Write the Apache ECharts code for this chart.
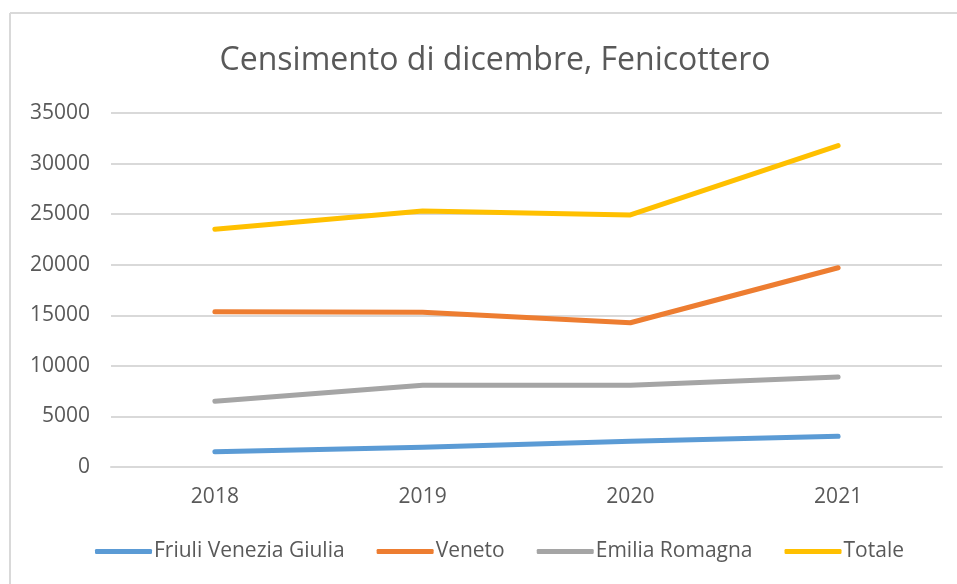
<!DOCTYPE html>
<html>
<head>
<meta charset="utf-8">
<script src="https://cdn.jsdelivr.net/npm/echarts@6/dist/echarts.min.js"></script>
<style>html,body{margin:0;padding:0;background:#fff}#c{width:957px;height:584px}</style>
</head>
<body>
<div id="c"></div>
<script>
var categories = ['2018', '2019', '2020', '2021'];
var friuli = [1500, 1950, 2540, 3040];
var veneto = [15350, 15290, 14260, 19700];
var emilia = [6500, 8090, 8090, 8910];
var totale = [23500, 25310, 24920, 31780];
var seriesNames = ['Friuli Venezia Giulia', 'Veneto', 'Emilia Romagna', 'Totale'];
var colors = ['#5B9BD5', '#ED7D31', '#A5A5A5', '#FFC000'];
var yTicks = { min: 0, max: 35000, interval: 5000 };

var FONT = 'Open Sans';
var TXT = '#595959';
var chart = echarts.init(document.getElementById('c'));
var data = [friuli, veneto, emilia, totale];
chart.setOption({
  animation: false,
  color: colors,
  title: {
    text: 'Censimento di dicembre, Fenicottero',
    left: 490, top: 40, textAlign: 'center',
    textStyle: { fontFamily: FONT, fontSize: 32, fontWeight: 'normal', color: TXT }
  },
  graphic: [
    { type: 'line', shape: { x1: 10, y1: 13, x2: 10, y2: 584 }, style: { stroke: '#D9D9D9', lineWidth: 2 } },
    { type: 'line', shape: { x1: 10, y1: 13, x2: 957, y2: 13 }, style: { stroke: '#D9D9D9', lineWidth: 2 } }
  ],
  legend: {
    bottom: 17, left: 90,
    icon: 'roundRect', itemWidth: 57, itemHeight: 5, itemGap: 32,
    textStyle: { fontFamily: FONT, fontSize: 21, color: TXT, padding: [0, 0, 0, -3] },
    data: seriesNames
  },
  grid: { left: 111, right: 15, top: 113, bottom: 117 },
  xAxis: {
    type: 'category', data: categories, boundaryGap: true,
    axisLine: { show: true, lineStyle: { color: '#D9D9D9', width: 2 } },
    axisTick: { show: false },
    axisLabel: { fontFamily: FONT, fontSize: 21, color: TXT, margin: 20 }
  },
  yAxis: {
    type: 'value', min: yTicks.min, max: yTicks.max, interval: yTicks.interval,
    axisLine: { show: false }, axisTick: { show: false },
    splitLine: { lineStyle: { color: '#D9D9D9', width: 2 } },
    axisLabel: { fontFamily: FONT, fontSize: 21, color: TXT, margin: 21,
      formatter: function (v) { return String(v); } }
  },
  series: seriesNames.map(function (n, i) {
    return {
      name: n, type: 'line', data: data[i], symbol: 'none', smooth: false,
      lineStyle: { width: 5, cap: 'round', join: 'round', color: colors[i] },
      itemStyle: { color: colors[i] }
    };
  })
});
</script>
</body>
</html>
